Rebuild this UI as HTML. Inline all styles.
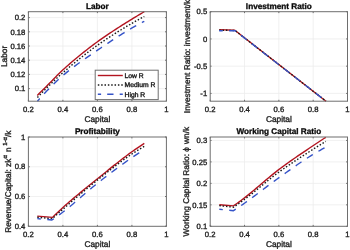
<!DOCTYPE html>
<html><head><meta charset="utf-8"><style>
html,body{margin:0;padding:0;background:#fff;}
svg{display:block;will-change:transform;font-variant-ligatures:none;text-rendering:geometricPrecision;font-family:"Liberation Sans", sans-serif;}
text{stroke:#222;stroke-width:0.35px;}
</style></head><body>
<svg width="350" height="250" viewBox="0 0 350 250">
<rect width="350" height="250" fill="#fff"/>
<line x1="62.90" y1="11.70" x2="62.90" y2="101.20" stroke="#ececec" stroke-width="0.8"/>
<line x1="97.40" y1="11.70" x2="97.40" y2="101.20" stroke="#ececec" stroke-width="0.8"/>
<line x1="131.90" y1="11.70" x2="131.90" y2="101.20" stroke="#ececec" stroke-width="0.8"/>
<line x1="28.40" y1="88.63" x2="166.40" y2="88.63" stroke="#ececec" stroke-width="0.8"/>
<line x1="28.40" y1="74.42" x2="166.40" y2="74.42" stroke="#ececec" stroke-width="0.8"/>
<line x1="28.40" y1="60.21" x2="166.40" y2="60.21" stroke="#ececec" stroke-width="0.8"/>
<line x1="28.40" y1="46.01" x2="166.40" y2="46.01" stroke="#ececec" stroke-width="0.8"/>
<line x1="28.40" y1="31.80" x2="166.40" y2="31.80" stroke="#ececec" stroke-width="0.8"/>
<line x1="28.40" y1="17.60" x2="166.40" y2="17.60" stroke="#ececec" stroke-width="0.8"/>
<line x1="244.52" y1="11.70" x2="244.52" y2="101.20" stroke="#ececec" stroke-width="0.8"/>
<line x1="278.85" y1="11.70" x2="278.85" y2="101.20" stroke="#ececec" stroke-width="0.8"/>
<line x1="313.18" y1="11.70" x2="313.18" y2="101.20" stroke="#ececec" stroke-width="0.8"/>
<line x1="210.20" y1="93.41" x2="347.50" y2="93.41" stroke="#ececec" stroke-width="0.8"/>
<line x1="210.20" y1="66.17" x2="347.50" y2="66.17" stroke="#ececec" stroke-width="0.8"/>
<line x1="210.20" y1="38.94" x2="347.50" y2="38.94" stroke="#ececec" stroke-width="0.8"/>
<line x1="62.90" y1="137.00" x2="62.90" y2="226.30" stroke="#ececec" stroke-width="0.8"/>
<line x1="97.40" y1="137.00" x2="97.40" y2="226.30" stroke="#ececec" stroke-width="0.8"/>
<line x1="131.90" y1="137.00" x2="131.90" y2="226.30" stroke="#ececec" stroke-width="0.8"/>
<line x1="28.40" y1="196.53" x2="166.40" y2="196.53" stroke="#ececec" stroke-width="0.8"/>
<line x1="28.40" y1="166.77" x2="166.40" y2="166.77" stroke="#ececec" stroke-width="0.8"/>
<line x1="244.52" y1="137.00" x2="244.52" y2="226.30" stroke="#ececec" stroke-width="0.8"/>
<line x1="278.85" y1="137.00" x2="278.85" y2="226.30" stroke="#ececec" stroke-width="0.8"/>
<line x1="313.18" y1="137.00" x2="313.18" y2="226.30" stroke="#ececec" stroke-width="0.8"/>
<line x1="210.20" y1="204.83" x2="347.50" y2="204.83" stroke="#ececec" stroke-width="0.8"/>
<line x1="210.20" y1="183.37" x2="347.50" y2="183.37" stroke="#ececec" stroke-width="0.8"/>
<line x1="210.20" y1="161.90" x2="347.50" y2="161.90" stroke="#ececec" stroke-width="0.8"/>
<line x1="210.20" y1="140.43" x2="347.50" y2="140.43" stroke="#ececec" stroke-width="0.8"/>
<polyline points="37.30,95.40 39.11,93.61 40.93,91.82 42.74,90.03 44.55,88.24 46.37,86.43 48.18,84.61 49.99,82.75 51.81,80.89 53.62,79.02 55.44,77.16 57.25,75.33 59.06,73.54 60.88,71.79 62.69,70.10 64.50,68.46 66.32,66.84 68.13,65.24 69.94,63.65 71.76,62.09 73.57,60.54 75.38,59.01 77.20,57.50 79.01,56.01 80.83,54.53 82.64,53.07 84.45,51.63 86.27,50.20 88.08,48.79 89.89,47.40 91.71,46.02 93.52,44.66 95.33,43.31 97.15,41.98 98.96,40.67 100.77,39.38 102.59,38.10 104.40,36.84 106.22,35.60 108.03,34.37 109.84,33.16 111.66,31.96 113.47,30.77 115.28,29.59 117.10,28.42 118.91,27.26 120.72,26.11 122.54,24.96 124.35,23.82 126.16,22.69 127.98,21.56 129.79,20.43 131.61,19.30 133.42,18.18 135.23,17.07 137.05,15.98 138.86,14.90 140.67,13.82 142.49,12.76 144.30,11.70" fill="none" stroke="#b3141f" stroke-width="1.4" stroke-linejoin="round" stroke-linecap="butt"/>
<polyline points="37.40,97.50 39.21,95.61 41.02,93.73 42.84,91.88 44.65,90.04 46.46,88.21 48.27,86.41 50.08,84.63 51.89,82.87 53.71,81.14 55.52,79.42 57.33,77.74 59.14,76.07 60.95,74.44 62.77,72.83 64.58,71.24 66.39,69.67 68.20,68.12 70.01,66.58 71.83,65.06 73.64,63.55 75.45,62.06 77.26,60.59 79.07,59.13 80.88,57.68 82.70,56.26 84.51,54.85 86.32,53.45 88.13,52.08 89.94,50.72 91.76,49.38 93.57,48.05 95.38,46.74 97.19,45.45 99.00,44.17 100.82,42.91 102.63,41.67 104.44,40.44 106.25,39.23 108.06,38.03 109.87,36.84 111.69,35.67 113.50,34.51 115.31,33.36 117.12,32.23 118.93,31.10 120.75,29.99 122.56,28.88 124.37,27.79 126.18,26.70 127.99,25.62 129.81,24.55 131.62,23.49 133.43,22.44 135.24,21.41 137.05,20.40 138.86,19.41 140.68,18.43 142.49,17.46 144.30,16.50" fill="none" stroke="#1a1a1a" stroke-width="1.4" stroke-linejoin="round" stroke-linecap="butt" stroke-dasharray="1.5 1.85"/>
<polyline points="37.40,101.20 39.21,99.17 41.02,97.17 42.84,95.19 44.65,93.24 46.46,91.31 48.27,89.42 50.08,87.56 51.89,85.73 53.71,83.95 55.52,82.20 57.33,80.49 59.14,78.82 60.95,77.20 62.77,75.63 64.58,74.10 66.39,72.60 68.20,71.14 70.01,69.71 71.83,68.31 73.64,66.94 75.45,65.59 77.26,64.26 79.07,62.95 80.88,61.66 82.70,60.39 84.51,59.13 86.32,57.87 88.13,56.63 89.94,55.39 91.76,54.15 93.57,52.92 95.38,51.68 97.19,50.44 99.00,49.20 100.82,47.96 102.63,46.73 104.44,45.50 106.25,44.28 108.06,43.06 109.87,41.85 111.69,40.65 113.50,39.46 115.31,38.28 117.12,37.11 118.93,35.95 120.75,34.80 122.56,33.66 124.37,32.54 126.18,31.43 127.99,30.33 129.81,29.25 131.62,28.19 133.43,27.15 135.24,26.13 137.05,25.13 138.86,24.15 140.68,23.19 142.49,22.24 144.30,21.30" fill="none" stroke="#3553c8" stroke-width="1.4" stroke-linejoin="round" stroke-linecap="butt" stroke-dasharray="7 6.5" stroke-dashoffset="3.5"/>
<polyline points="219.20,29.60 234.80,30.20 326.00,101.20" fill="none" stroke="#b3141f" stroke-width="1.4" stroke-linejoin="round" stroke-linecap="butt"/>
<polyline points="219.20,30.10 235.00,30.50 326.00,101.20" fill="none" stroke="#1a1a1a" stroke-width="1.4" stroke-linejoin="round" stroke-linecap="butt" stroke-dasharray="1.5 1.85"/>
<polyline points="219.20,30.70 235.20,30.80 326.00,101.20" fill="none" stroke="#3553c8" stroke-width="1.4" stroke-linejoin="round" stroke-linecap="butt" stroke-dasharray="7 6.5" stroke-dashoffset="3.5"/>
<polyline points="37.30,216.10 52.50,217.40 54.37,215.57 56.25,213.75 58.12,211.95 59.99,210.18 61.87,208.44 63.74,206.76 65.61,205.09 67.49,203.45 69.36,201.83 71.23,200.22 73.11,198.63 74.98,197.05 76.86,195.49 78.73,193.93 80.60,192.39 82.48,190.86 84.35,189.33 86.22,187.81 88.10,186.30 89.97,184.79 91.84,183.28 93.72,181.77 95.59,180.26 97.46,178.75 99.34,177.23 101.21,175.72 103.08,174.20 104.96,172.69 106.83,171.17 108.70,169.66 110.58,168.15 112.45,166.65 114.32,165.16 116.20,163.68 118.07,162.20 119.94,160.74 121.82,159.29 123.69,157.86 125.57,156.44 127.44,155.04 129.31,153.66 131.19,152.30 133.06,150.96 134.93,149.65 136.81,148.36 138.68,147.10 140.55,145.85 142.43,144.62 144.30,143.40" fill="none" stroke="#b3141f" stroke-width="1.4" stroke-linejoin="round" stroke-linecap="butt"/>
<polyline points="37.30,217.30 52.30,218.70 54.18,217.00 56.06,215.30 57.93,213.61 59.81,211.94 61.69,210.28 63.57,208.63 65.44,206.99 67.32,205.36 69.20,203.73 71.08,202.11 72.95,200.49 74.83,198.87 76.71,197.26 78.59,195.66 80.46,194.07 82.34,192.48 84.22,190.90 86.10,189.33 87.97,187.77 89.85,186.22 91.73,184.68 93.61,183.15 95.48,181.64 97.36,180.13 99.24,178.63 101.12,177.13 102.99,175.64 104.87,174.14 106.75,172.65 108.63,171.17 110.50,169.69 112.38,168.23 114.26,166.78 116.14,165.34 118.01,163.91 119.89,162.50 121.77,161.11 123.65,159.74 125.52,158.40 127.40,157.07 129.28,155.77 131.16,154.50 133.03,153.25 134.91,152.04 136.79,150.87 138.67,149.72 140.54,148.59 142.42,147.49 144.30,146.40" fill="none" stroke="#1a1a1a" stroke-width="1.4" stroke-linejoin="round" stroke-linecap="butt" stroke-dasharray="1.5 1.85"/>
<polyline points="37.30,218.60 52.00,220.00 53.88,218.69 55.77,217.36 57.65,216.01 59.53,214.64 61.42,213.25 63.30,211.81 65.19,210.35 67.07,208.84 68.95,207.31 70.84,205.75 72.72,204.17 74.60,202.57 76.49,200.96 78.37,199.34 80.26,197.71 82.14,196.09 84.02,194.46 85.91,192.84 87.79,191.22 89.67,189.63 91.56,188.05 93.44,186.49 95.32,184.95 97.21,183.45 99.09,181.97 100.98,180.49 102.86,179.03 104.74,177.56 106.63,176.11 108.51,174.67 110.39,173.23 112.28,171.80 114.16,170.38 116.04,168.98 117.93,167.58 119.81,166.19 121.70,164.82 123.58,163.46 125.46,162.11 127.35,160.77 129.23,159.45 131.11,158.14 133.00,156.84 134.88,155.57 136.77,154.33 138.65,153.10 140.53,151.89 142.42,150.69 144.30,149.50" fill="none" stroke="#3553c8" stroke-width="1.4" stroke-linejoin="round" stroke-linecap="butt" stroke-dasharray="7 6.5" stroke-dashoffset="3.5"/>
<polyline points="219.30,204.70 233.50,205.90 235.38,204.55 237.27,203.20 239.15,201.83 241.03,200.44 242.92,199.03 244.80,197.60 246.69,196.13 248.57,194.63 250.45,193.10 252.34,191.55 254.22,189.98 256.10,188.39 257.99,186.80 259.87,185.19 261.76,183.58 263.64,181.97 265.52,180.37 267.41,178.78 269.29,177.20 271.17,175.64 273.06,174.10 274.94,172.59 276.82,171.11 278.71,169.67 280.59,168.25 282.48,166.86 284.36,165.48 286.24,164.11 288.13,162.76 290.01,161.43 291.89,160.10 293.78,158.79 295.66,157.49 297.54,156.19 299.43,154.90 301.31,153.62 303.20,152.34 305.08,151.07 306.96,149.80 308.85,148.53 310.73,147.26 312.61,146.00 314.50,144.73 316.38,143.47 318.27,142.22 320.15,140.98 322.03,139.75 323.92,138.52 325.80,137.30" fill="none" stroke="#b3141f" stroke-width="1.4" stroke-linejoin="round" stroke-linecap="butt"/>
<polyline points="219.30,205.60 233.50,207.20 235.38,205.90 237.27,204.60 239.15,203.28 241.03,201.94 242.92,200.58 244.80,199.20 246.69,197.78 248.57,196.34 250.45,194.86 252.34,193.37 254.22,191.85 256.10,190.32 257.99,188.77 259.87,187.22 261.76,185.67 263.64,184.12 265.52,182.57 267.41,181.04 269.29,179.52 271.17,178.01 273.06,176.53 274.94,175.08 276.82,173.66 278.71,172.27 280.59,170.91 282.48,169.56 284.36,168.24 286.24,166.92 288.13,165.62 290.01,164.34 291.89,163.07 293.78,161.80 295.66,160.55 297.54,159.31 299.43,158.07 301.31,156.84 303.20,155.62 305.08,154.41 306.96,153.19 308.85,151.98 310.73,150.78 312.61,149.57 314.50,148.37 316.38,147.19 318.27,146.01 320.15,144.85 322.03,143.69 323.92,142.54 325.80,141.40" fill="none" stroke="#1a1a1a" stroke-width="1.4" stroke-linejoin="round" stroke-linecap="butt" stroke-dasharray="1.5 1.85"/>
<polyline points="219.30,209.30 233.50,210.70 235.38,209.44 237.27,208.18 239.15,206.90 241.03,205.62 242.92,204.32 244.80,203.00 246.69,201.66 248.57,200.30 250.45,198.93 252.34,197.54 254.22,196.14 256.10,194.73 257.99,193.31 259.87,191.89 261.76,190.46 263.64,189.03 265.52,187.61 267.41,186.18 269.29,184.77 271.17,183.36 273.06,181.97 274.94,180.58 276.82,179.22 278.71,177.87 280.59,176.52 282.48,175.18 284.36,173.84 286.24,172.49 288.13,171.15 290.01,169.82 291.89,168.48 293.78,167.16 295.66,165.84 297.54,164.54 299.43,163.25 301.31,161.97 303.20,160.70 305.08,159.45 306.96,158.22 308.85,157.01 310.73,155.82 312.61,154.66 314.50,153.52 316.38,152.41 318.27,151.33 320.15,150.27 322.03,149.23 323.92,148.21 325.80,147.20" fill="none" stroke="#3553c8" stroke-width="1.4" stroke-linejoin="round" stroke-linecap="butt" stroke-dasharray="7 6.5" stroke-dashoffset="3.5"/>
<rect x="28.40" y="11.70" width="138.00" height="89.50" fill="none" stroke="#6e6e6e" stroke-width="1.0"/>
<line x1="28.40" y1="101.20" x2="28.40" y2="99.80" stroke="#6e6e6e" stroke-width="1.0"/>
<line x1="28.40" y1="11.70" x2="28.40" y2="13.10" stroke="#6e6e6e" stroke-width="1.0"/>
<text x="28.40" y="112.00" text-anchor="middle" font-size="7.7" fill="#262626">0.2</text>
<line x1="62.90" y1="101.20" x2="62.90" y2="99.80" stroke="#6e6e6e" stroke-width="1.0"/>
<line x1="62.90" y1="11.70" x2="62.90" y2="13.10" stroke="#6e6e6e" stroke-width="1.0"/>
<text x="62.90" y="112.00" text-anchor="middle" font-size="7.7" fill="#262626">0.4</text>
<line x1="97.40" y1="101.20" x2="97.40" y2="99.80" stroke="#6e6e6e" stroke-width="1.0"/>
<line x1="97.40" y1="11.70" x2="97.40" y2="13.10" stroke="#6e6e6e" stroke-width="1.0"/>
<text x="97.40" y="112.00" text-anchor="middle" font-size="7.7" fill="#262626">0.6</text>
<line x1="131.90" y1="101.20" x2="131.90" y2="99.80" stroke="#6e6e6e" stroke-width="1.0"/>
<line x1="131.90" y1="11.70" x2="131.90" y2="13.10" stroke="#6e6e6e" stroke-width="1.0"/>
<text x="131.90" y="112.00" text-anchor="middle" font-size="7.7" fill="#262626">0.8</text>
<line x1="166.40" y1="101.20" x2="166.40" y2="99.80" stroke="#6e6e6e" stroke-width="1.0"/>
<line x1="166.40" y1="11.70" x2="166.40" y2="13.10" stroke="#6e6e6e" stroke-width="1.0"/>
<text x="166.40" y="112.00" text-anchor="middle" font-size="7.7" fill="#262626">1</text>
<line x1="28.40" y1="88.63" x2="29.80" y2="88.63" stroke="#6e6e6e" stroke-width="1.0"/>
<line x1="166.40" y1="88.63" x2="165.00" y2="88.63" stroke="#6e6e6e" stroke-width="1.0"/>
<text x="25.40" y="91.33" text-anchor="end" font-size="7.7" fill="#262626">0.1</text>
<line x1="28.40" y1="74.42" x2="29.80" y2="74.42" stroke="#6e6e6e" stroke-width="1.0"/>
<line x1="166.40" y1="74.42" x2="165.00" y2="74.42" stroke="#6e6e6e" stroke-width="1.0"/>
<text x="25.40" y="77.12" text-anchor="end" font-size="7.7" fill="#262626">0.12</text>
<line x1="28.40" y1="60.21" x2="29.80" y2="60.21" stroke="#6e6e6e" stroke-width="1.0"/>
<line x1="166.40" y1="60.21" x2="165.00" y2="60.21" stroke="#6e6e6e" stroke-width="1.0"/>
<text x="25.40" y="62.91" text-anchor="end" font-size="7.7" fill="#262626">0.14</text>
<line x1="28.40" y1="46.01" x2="29.80" y2="46.01" stroke="#6e6e6e" stroke-width="1.0"/>
<line x1="166.40" y1="46.01" x2="165.00" y2="46.01" stroke="#6e6e6e" stroke-width="1.0"/>
<text x="25.40" y="48.71" text-anchor="end" font-size="7.7" fill="#262626">0.16</text>
<line x1="28.40" y1="31.80" x2="29.80" y2="31.80" stroke="#6e6e6e" stroke-width="1.0"/>
<line x1="166.40" y1="31.80" x2="165.00" y2="31.80" stroke="#6e6e6e" stroke-width="1.0"/>
<text x="25.40" y="34.50" text-anchor="end" font-size="7.7" fill="#262626">0.18</text>
<line x1="28.40" y1="17.60" x2="29.80" y2="17.60" stroke="#6e6e6e" stroke-width="1.0"/>
<line x1="166.40" y1="17.60" x2="165.00" y2="17.60" stroke="#6e6e6e" stroke-width="1.0"/>
<text x="25.40" y="20.30" text-anchor="end" font-size="7.7" fill="#262626">0.2</text>
<text x="97.40" y="122.30" text-anchor="middle" font-size="8.3" fill="#262626">Capital</text>
<rect x="210.20" y="11.70" width="137.30" height="89.50" fill="none" stroke="#6e6e6e" stroke-width="1.0"/>
<line x1="210.20" y1="101.20" x2="210.20" y2="99.80" stroke="#6e6e6e" stroke-width="1.0"/>
<line x1="210.20" y1="11.70" x2="210.20" y2="13.10" stroke="#6e6e6e" stroke-width="1.0"/>
<text x="210.20" y="112.00" text-anchor="middle" font-size="7.7" fill="#262626">0.2</text>
<line x1="244.52" y1="101.20" x2="244.52" y2="99.80" stroke="#6e6e6e" stroke-width="1.0"/>
<line x1="244.52" y1="11.70" x2="244.52" y2="13.10" stroke="#6e6e6e" stroke-width="1.0"/>
<text x="244.52" y="112.00" text-anchor="middle" font-size="7.7" fill="#262626">0.4</text>
<line x1="278.85" y1="101.20" x2="278.85" y2="99.80" stroke="#6e6e6e" stroke-width="1.0"/>
<line x1="278.85" y1="11.70" x2="278.85" y2="13.10" stroke="#6e6e6e" stroke-width="1.0"/>
<text x="278.85" y="112.00" text-anchor="middle" font-size="7.7" fill="#262626">0.6</text>
<line x1="313.18" y1="101.20" x2="313.18" y2="99.80" stroke="#6e6e6e" stroke-width="1.0"/>
<line x1="313.18" y1="11.70" x2="313.18" y2="13.10" stroke="#6e6e6e" stroke-width="1.0"/>
<text x="313.18" y="112.00" text-anchor="middle" font-size="7.7" fill="#262626">0.8</text>
<line x1="347.50" y1="101.20" x2="347.50" y2="99.80" stroke="#6e6e6e" stroke-width="1.0"/>
<line x1="347.50" y1="11.70" x2="347.50" y2="13.10" stroke="#6e6e6e" stroke-width="1.0"/>
<text x="347.50" y="112.00" text-anchor="middle" font-size="7.7" fill="#262626">1</text>
<line x1="210.20" y1="93.41" x2="211.60" y2="93.41" stroke="#6e6e6e" stroke-width="1.0"/>
<line x1="347.50" y1="93.41" x2="346.10" y2="93.41" stroke="#6e6e6e" stroke-width="1.0"/>
<text x="207.20" y="96.11" text-anchor="end" font-size="7.7" fill="#262626">-1</text>
<line x1="210.20" y1="66.17" x2="211.60" y2="66.17" stroke="#6e6e6e" stroke-width="1.0"/>
<line x1="347.50" y1="66.17" x2="346.10" y2="66.17" stroke="#6e6e6e" stroke-width="1.0"/>
<text x="207.20" y="68.87" text-anchor="end" font-size="7.7" fill="#262626">-0.5</text>
<line x1="210.20" y1="38.94" x2="211.60" y2="38.94" stroke="#6e6e6e" stroke-width="1.0"/>
<line x1="347.50" y1="38.94" x2="346.10" y2="38.94" stroke="#6e6e6e" stroke-width="1.0"/>
<text x="207.20" y="41.64" text-anchor="end" font-size="7.7" fill="#262626">0</text>
<line x1="210.20" y1="11.70" x2="211.60" y2="11.70" stroke="#6e6e6e" stroke-width="1.0"/>
<line x1="347.50" y1="11.70" x2="346.10" y2="11.70" stroke="#6e6e6e" stroke-width="1.0"/>
<text x="207.20" y="14.40" text-anchor="end" font-size="7.7" fill="#262626">0.5</text>
<text x="278.85" y="122.30" text-anchor="middle" font-size="8.3" fill="#262626">Capital</text>
<rect x="28.40" y="137.00" width="138.00" height="89.30" fill="none" stroke="#6e6e6e" stroke-width="1.0"/>
<line x1="28.40" y1="226.30" x2="28.40" y2="224.90" stroke="#6e6e6e" stroke-width="1.0"/>
<line x1="28.40" y1="137.00" x2="28.40" y2="138.40" stroke="#6e6e6e" stroke-width="1.0"/>
<text x="28.40" y="237.10" text-anchor="middle" font-size="7.7" fill="#262626">0.2</text>
<line x1="62.90" y1="226.30" x2="62.90" y2="224.90" stroke="#6e6e6e" stroke-width="1.0"/>
<line x1="62.90" y1="137.00" x2="62.90" y2="138.40" stroke="#6e6e6e" stroke-width="1.0"/>
<text x="62.90" y="237.10" text-anchor="middle" font-size="7.7" fill="#262626">0.4</text>
<line x1="97.40" y1="226.30" x2="97.40" y2="224.90" stroke="#6e6e6e" stroke-width="1.0"/>
<line x1="97.40" y1="137.00" x2="97.40" y2="138.40" stroke="#6e6e6e" stroke-width="1.0"/>
<text x="97.40" y="237.10" text-anchor="middle" font-size="7.7" fill="#262626">0.6</text>
<line x1="131.90" y1="226.30" x2="131.90" y2="224.90" stroke="#6e6e6e" stroke-width="1.0"/>
<line x1="131.90" y1="137.00" x2="131.90" y2="138.40" stroke="#6e6e6e" stroke-width="1.0"/>
<text x="131.90" y="237.10" text-anchor="middle" font-size="7.7" fill="#262626">0.8</text>
<line x1="166.40" y1="226.30" x2="166.40" y2="224.90" stroke="#6e6e6e" stroke-width="1.0"/>
<line x1="166.40" y1="137.00" x2="166.40" y2="138.40" stroke="#6e6e6e" stroke-width="1.0"/>
<text x="166.40" y="237.10" text-anchor="middle" font-size="7.7" fill="#262626">1</text>
<line x1="28.40" y1="226.30" x2="29.80" y2="226.30" stroke="#6e6e6e" stroke-width="1.0"/>
<line x1="166.40" y1="226.30" x2="165.00" y2="226.30" stroke="#6e6e6e" stroke-width="1.0"/>
<text x="25.40" y="229.00" text-anchor="end" font-size="7.7" fill="#262626">0.4</text>
<line x1="28.40" y1="196.53" x2="29.80" y2="196.53" stroke="#6e6e6e" stroke-width="1.0"/>
<line x1="166.40" y1="196.53" x2="165.00" y2="196.53" stroke="#6e6e6e" stroke-width="1.0"/>
<text x="25.40" y="199.23" text-anchor="end" font-size="7.7" fill="#262626">0.6</text>
<line x1="28.40" y1="166.77" x2="29.80" y2="166.77" stroke="#6e6e6e" stroke-width="1.0"/>
<line x1="166.40" y1="166.77" x2="165.00" y2="166.77" stroke="#6e6e6e" stroke-width="1.0"/>
<text x="25.40" y="169.47" text-anchor="end" font-size="7.7" fill="#262626">0.8</text>
<line x1="28.40" y1="137.00" x2="29.80" y2="137.00" stroke="#6e6e6e" stroke-width="1.0"/>
<line x1="166.40" y1="137.00" x2="165.00" y2="137.00" stroke="#6e6e6e" stroke-width="1.0"/>
<text x="25.40" y="139.70" text-anchor="end" font-size="7.7" fill="#262626">1</text>
<text x="97.40" y="247.40" text-anchor="middle" font-size="8.3" fill="#262626">Capital</text>
<rect x="210.20" y="137.00" width="137.30" height="89.30" fill="none" stroke="#6e6e6e" stroke-width="1.0"/>
<line x1="210.20" y1="226.30" x2="210.20" y2="224.90" stroke="#6e6e6e" stroke-width="1.0"/>
<line x1="210.20" y1="137.00" x2="210.20" y2="138.40" stroke="#6e6e6e" stroke-width="1.0"/>
<text x="210.20" y="237.10" text-anchor="middle" font-size="7.7" fill="#262626">0.2</text>
<line x1="244.52" y1="226.30" x2="244.52" y2="224.90" stroke="#6e6e6e" stroke-width="1.0"/>
<line x1="244.52" y1="137.00" x2="244.52" y2="138.40" stroke="#6e6e6e" stroke-width="1.0"/>
<text x="244.52" y="237.10" text-anchor="middle" font-size="7.7" fill="#262626">0.4</text>
<line x1="278.85" y1="226.30" x2="278.85" y2="224.90" stroke="#6e6e6e" stroke-width="1.0"/>
<line x1="278.85" y1="137.00" x2="278.85" y2="138.40" stroke="#6e6e6e" stroke-width="1.0"/>
<text x="278.85" y="237.10" text-anchor="middle" font-size="7.7" fill="#262626">0.6</text>
<line x1="313.18" y1="226.30" x2="313.18" y2="224.90" stroke="#6e6e6e" stroke-width="1.0"/>
<line x1="313.18" y1="137.00" x2="313.18" y2="138.40" stroke="#6e6e6e" stroke-width="1.0"/>
<text x="313.18" y="237.10" text-anchor="middle" font-size="7.7" fill="#262626">0.8</text>
<line x1="347.50" y1="226.30" x2="347.50" y2="224.90" stroke="#6e6e6e" stroke-width="1.0"/>
<line x1="347.50" y1="137.00" x2="347.50" y2="138.40" stroke="#6e6e6e" stroke-width="1.0"/>
<text x="347.50" y="237.10" text-anchor="middle" font-size="7.7" fill="#262626">1</text>
<line x1="210.20" y1="226.30" x2="211.60" y2="226.30" stroke="#6e6e6e" stroke-width="1.0"/>
<line x1="347.50" y1="226.30" x2="346.10" y2="226.30" stroke="#6e6e6e" stroke-width="1.0"/>
<text x="207.20" y="229.00" text-anchor="end" font-size="7.7" fill="#262626">0.1</text>
<line x1="210.20" y1="204.83" x2="211.60" y2="204.83" stroke="#6e6e6e" stroke-width="1.0"/>
<line x1="347.50" y1="204.83" x2="346.10" y2="204.83" stroke="#6e6e6e" stroke-width="1.0"/>
<text x="207.20" y="207.53" text-anchor="end" font-size="7.7" fill="#262626">0.15</text>
<line x1="210.20" y1="183.37" x2="211.60" y2="183.37" stroke="#6e6e6e" stroke-width="1.0"/>
<line x1="347.50" y1="183.37" x2="346.10" y2="183.37" stroke="#6e6e6e" stroke-width="1.0"/>
<text x="207.20" y="186.07" text-anchor="end" font-size="7.7" fill="#262626">0.2</text>
<line x1="210.20" y1="161.90" x2="211.60" y2="161.90" stroke="#6e6e6e" stroke-width="1.0"/>
<line x1="347.50" y1="161.90" x2="346.10" y2="161.90" stroke="#6e6e6e" stroke-width="1.0"/>
<text x="207.20" y="164.60" text-anchor="end" font-size="7.7" fill="#262626">0.25</text>
<line x1="210.20" y1="140.43" x2="211.60" y2="140.43" stroke="#6e6e6e" stroke-width="1.0"/>
<line x1="347.50" y1="140.43" x2="346.10" y2="140.43" stroke="#6e6e6e" stroke-width="1.0"/>
<text x="207.20" y="143.13" text-anchor="end" font-size="7.7" fill="#262626">0.3</text>
<text x="278.85" y="247.40" text-anchor="middle" font-size="8.3" fill="#262626">Capital</text>
<rect x="95.2" y="70.2" width="62.999999999999986" height="29.39999999999999" fill="#fff" stroke="#6e6e6e" stroke-width="1.0"/>
<line x1="97.8" y1="75.5" x2="122.8" y2="75.5" stroke="#b3141f" stroke-width="1.4"/>
<text x="124.6" y="77.90" font-size="6.75" fill="#000">Low R</text>
<line x1="97.8" y1="85.0" x2="122.8" y2="85.0" stroke="#1a1a1a" stroke-width="1.4" stroke-dasharray="1.5 1.85" stroke-dashoffset="0"/>
<text x="124.6" y="87.40" font-size="6.75" fill="#000">Medium R</text>
<line x1="97.8" y1="94.2" x2="122.8" y2="94.2" stroke="#3553c8" stroke-width="1.4" stroke-dasharray="3.3 6.1 6.3 6.2 3.3 20" stroke-dashoffset="0"/>
<text x="124.6" y="96.60" font-size="6.75" fill="#000">High R</text>
<text x="97.40" y="9.40" text-anchor="middle" font-size="8.2" font-weight="bold" fill="#000">Labor</text>
<text x="278.85" y="9.40" text-anchor="middle" font-size="8.2" font-weight="bold" fill="#000">Investment Ratio</text>
<text x="97.40" y="134.10" text-anchor="middle" font-size="8.2" font-weight="bold" fill="#000">Profitability</text>
<text x="278.85" y="134.10" text-anchor="middle" font-size="8.2" font-weight="bold" fill="#000">Working Capital Ratio</text>
<text transform="translate(7.40,56.45) rotate(-90)" x="0" y="0" text-anchor="middle" font-size="8.3" fill="#262626">Labor</text>
<text transform="translate(190.40,56.45) rotate(-90)" x="0" y="0" text-anchor="middle" font-size="8.3" fill="#262626">Investment Ratio: investment/k</text>
<text transform="translate(10.80,181.65) rotate(-90)" x="0" y="0" text-anchor="middle" font-size="8.3" fill="#262626">Revenue/Capital: zk<tspan font-size="5.98" dy="-3.7">&#945;</tspan><tspan dy="3.7" dx="0.8"> n</tspan><tspan font-size="5.98" dy="-3.7" dx="1.7">1-&#945;</tspan><tspan dy="3.7">/k</tspan></text>
<text transform="translate(188.60,181.65) rotate(-90)" x="0" y="0" text-anchor="middle" font-size="8.3" fill="#262626">Working Capital Ratio: &#981; <tspan dx="0.8">wn/k</tspan></text>
</svg>
</body></html>
